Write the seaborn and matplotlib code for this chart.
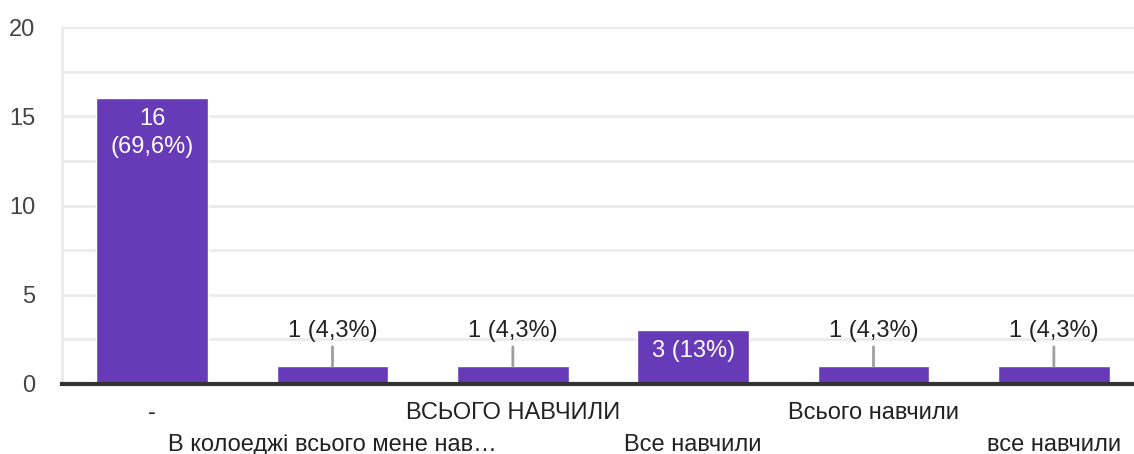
import numpy as np
import pandas as pd
import matplotlib
matplotlib.use("Agg")
import matplotlib.pyplot as plt
import seaborn as sns

# Дані
categories = ["-", "В колоеджі всього мене нав…", "ВСЬОГО НАВЧИЛИ",
              "Все навчили", "Всього навчили", "все навчили"]
counts = [16, 1, 1, 3, 1, 1]
percents = ["69,6%", "4,3%", "4,3%", "13%", "4,3%", "4,3%"]
y_ticks = [0, 5, 10, 15, 20]

BAR = "#673ab7"
TXT = "#222222"

sns.set_theme(style="white")
plt.rcParams['font.family'] = ['Liberation Sans', 'DejaVu Sans']

fig = plt.figure(figsize=(11.34, 4.54), dpi=100)
ax = fig.add_axes([62 / 1134, 70 / 454, 1 - 62 / 1134, 357 / 454])

df = pd.DataFrame({"cat": categories, "n": counts})
sns.barplot(data=df, x="cat", y="n", color=BAR, saturation=1, width=0.62, ax=ax, zorder=3)

ax.set_xlim(-0.5, 5.5 - 10 / 180)
ax.set_ylim(0, 20)
ax.set_yticks(y_ticks)
ax.set_yticks(np.arange(0, 20.1, 2.5), minor=True)
ax.grid(axis="y", which="both", color="#ebebeb", lw=2, zorder=0)
ax.set_axisbelow(True)
for s in ["top", "right"]:
    ax.spines[s].set_visible(False)
ax.spines["left"].set_color("#ebebeb")
ax.spines["left"].set_linewidth(2)
ax.spines["bottom"].set_color("#333333")
ax.spines["bottom"].set_linewidth(3)
ax.spines["bottom"].set_zorder(5)
ax.set_xlabel("")
ax.set_ylabel("")

ax.tick_params(axis="both", which="both", length=0)
ax.tick_params(axis="y", labelsize=17, labelcolor="#444444", pad=19)
ax.tick_params(axis="x", labelsize=17, labelcolor=TXT)

# мітки по осі X у два ряди
ax.set_xticks(range(len(categories)))
ax.set_xticklabels(categories)
for i, t in enumerate(ax.xaxis.get_major_ticks()):
    t.set_pad(13 if i % 2 == 0 else 36)

# підписи значень
for i, (v, p) in enumerate(zip(counts, percents)):
    label = f"{v} ({p})"
    if v >= 2:
        if len(label) > 8:
            label = f"{v}\n({p})"
        ax.annotate(label, xy=(i, v), xytext=(0, -10), textcoords="offset pixels",
                    ha="center", va="top", fontsize=17, color="white",
                    linespacing=1.3, zorder=6)
    else:
        ax.annotate(label, xy=(i, v), xytext=(0, 24), textcoords="offset pixels",
                    ha="center", va="bottom", fontsize=17, color=TXT, zorder=6,
                    arrowprops=dict(arrowstyle="-", color="#9e9e9e", lw=2,
                                    shrinkA=1, shrinkB=0))

fig.savefig("out.png", dpi=100)
